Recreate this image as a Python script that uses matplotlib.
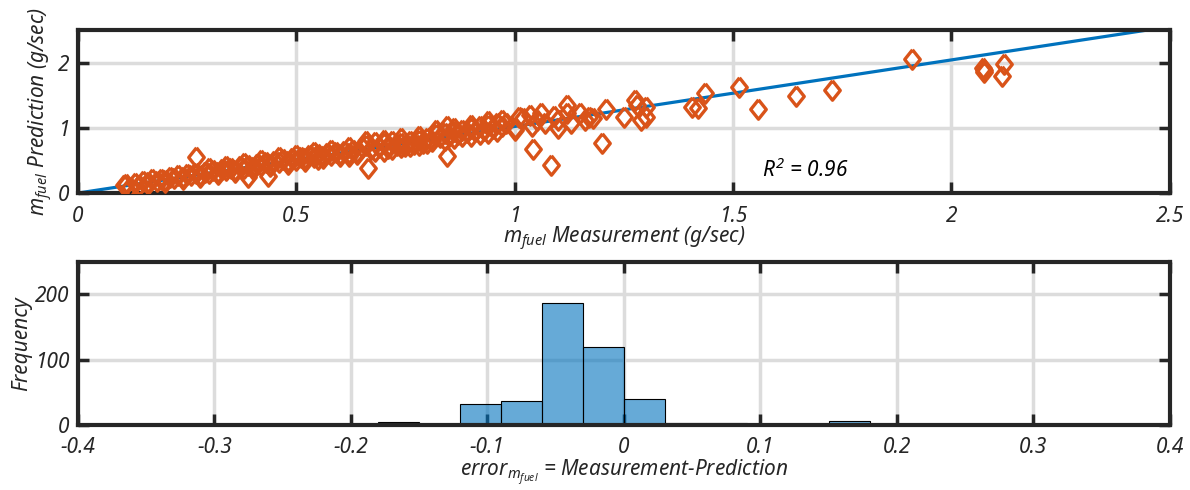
import matplotlib
matplotlib.use("Agg")
import matplotlib.pyplot as plt
from matplotlib.ticker import FormatStrFormatter

# ---- data ----
meas = [0.105, 0.11, 0.13, 0.14, 0.15, 0.16, 0.17, 0.18, 0.19, 0.20, 0.21, 0.22, 0.23, 0.24, 0.25,
        0.26, 0.27, 0.28, 0.29, 0.30, 0.31, 0.32, 0.33, 0.34, 0.35, 0.36, 0.37, 0.38, 0.39, 0.40,
        0.41, 0.42, 0.43, 0.44, 0.45, 0.46, 0.47, 0.48, 0.49, 0.50, 0.51, 0.52, 0.53, 0.54, 0.55,
        0.56, 0.57, 0.58, 0.59, 0.60, 0.61, 0.62, 0.63, 0.64, 0.65, 0.66, 0.67, 0.68, 0.69, 0.70,
        0.71, 0.72, 0.73, 0.74, 0.75, 0.76, 0.77, 0.78, 0.79, 0.80, 0.81, 0.82, 0.83, 0.84, 0.85,
        0.86, 0.87, 0.88, 0.89, 0.90, 0.91, 0.92, 0.93, 0.94, 0.95, 0.96, 0.97,
        0.12, 0.16, 0.20, 0.24, 0.28, 0.32, 0.36, 0.40, 0.44, 0.48, 0.52, 0.56, 0.60, 0.64, 0.68,
        0.72, 0.76, 0.80, 0.84, 0.88, 0.92, 0.96, 1.00, 1.04,
        0.30, 0.34, 0.38, 0.42, 0.46, 0.50, 0.54, 0.58, 0.62, 0.66, 0.70, 0.74, 0.78, 0.82, 0.86,
        0.90, 0.94, 0.97, 1.02,
        0.55, 0.62, 0.70, 0.74, 0.78, 0.86, 0.90, 0.94,
        0.27, 0.39, 0.435, 0.665, 0.845, 0.845,
        0.98, 1.00, 1.01, 1.035, 1.06, 1.042, 1.083, 1.10, 1.10, 1.12, 1.12, 1.13, 1.17, 1.18,
        1.20, 1.21, 1.25, 1.275, 1.28, 1.30, 1.30, 1.29, 1.05, 1.07, 1.09, 1.15, 1.16,
        1.405, 1.42, 1.435, 1.513, 1.557, 1.645, 1.726, 1.909, 2.072, 2.074, 2.12, 2.115, 2.075]
pred = [0.12, 0.14, 0.16, 0.13, 0.19, 0.17, 0.21, 0.18, 0.22, 0.20, 0.25, 0.23, 0.27, 0.24, 0.29,
        0.27, 0.31, 0.28, 0.33, 0.30, 0.35, 0.33, 0.37, 0.35, 0.39, 0.36, 0.41, 0.39, 0.43, 0.40,
        0.45, 0.43, 0.47, 0.44, 0.49, 0.47, 0.52, 0.49, 0.54, 0.51, 0.56, 0.53, 0.58, 0.55, 0.60,
        0.57, 0.62, 0.58, 0.63, 0.60, 0.65, 0.61, 0.66, 0.63, 0.70, 0.74, 0.67, 0.78, 0.71, 0.76,
        0.69, 0.80, 0.73, 0.77, 0.72, 0.79, 0.75, 0.82, 0.77, 0.84, 0.80, 0.90, 0.86, 0.92, 0.88,
        0.95, 0.90, 0.97, 0.93, 0.99, 0.95, 1.02, 0.97, 1.05, 1.00, 1.08, 1.03,
        0.10, 0.14, 0.17, 0.21, 0.25, 0.29, 0.33, 0.37, 0.41, 0.45, 0.49, 0.53, 0.57, 0.60, 0.65,
        0.68, 0.72, 0.76, 0.82, 0.87, 0.91, 0.95, 0.99, 1.02,
        0.38, 0.42, 0.46, 0.50, 0.55, 0.59, 0.63, 0.66, 0.70, 0.80, 0.82, 0.84, 0.88, 0.96, 1.00,
        1.05, 1.10, 1.12, 1.15,
        0.52, 0.57, 0.64, 0.70, 0.73, 0.84, 0.88, 0.92,
        0.55, 0.24, 0.26, 0.38, 0.57, 1.02,
        1.08, 0.97, 1.17, 1.20, 1.23, 0.68, 0.43, 1.12, 1.00, 1.35, 1.23, 1.07, 1.17, 1.15,
        0.77, 1.29, 1.17, 1.43, 1.35, 1.32, 1.17, 1.12, 1.12, 1.08, 1.18, 1.22, 1.12,
        1.32, 1.31, 1.54, 1.62, 1.29, 1.48, 1.58, 2.05, 1.92, 1.85, 1.97, 1.79, 1.89]

fit_x = [0, 2.5]
fit_y = [0, 2.55]
r2_text = "$R^2$ = 0.96"

bin_edges = [-0.18, -0.15, -0.12, -0.09, -0.06, -0.03, 0.0, 0.03, 0.06, 0.09, 0.12, 0.15, 0.18]
bin_counts = [4, 0, 32, 36, 186, 120, 40, 3, 3, 0, 0, 6]

top_xticks = [0, 0.5, 1, 1.5, 2, 2.5]
top_yticks = [0, 1, 2]
bot_xticks = [-0.4, -0.3, -0.2, -0.1, 0, 0.1, 0.2, 0.3, 0.4]
bot_yticks = [0, 100, 200]

plt.rcParams.update({
    "font.family": ["Noto Sans", "DejaVu Sans"],
    "font.style": "italic",
    "font.size": 15,
    "mathtext.fontset": "custom",
    "mathtext.it": "Noto Sans:italic",
    "mathtext.rm": "Noto Sans:italic",
    "axes.unicode_minus": False,
})

dark = "#262626"
grid_c = "#dcdcdc"


def style_axes(ax):
    for s in ax.spines.values():
        s.set_linewidth(3)
        s.set_color(dark)
    ax.tick_params(direction="in", length=8, width=2.5, color=dark, top=True, right=True,
                   labelsize=15, labelcolor=dark, pad=6)
    ax.tick_params(axis="x", pad=9)
    ax.grid(True, color=grid_c, linewidth=2.5)
    ax.xaxis.set_major_formatter(FormatStrFormatter("%g"))
    ax.yaxis.set_major_formatter(FormatStrFormatter("%g"))


fig = plt.figure(figsize=(11.9, 4.9), dpi=100)
ax1 = fig.add_axes([0.0655, 0.606, 0.9175, 0.333])
ax2 = fig.add_axes([0.0655, 0.133, 0.9175, 0.333])

# top: prediction vs measurement
diamond = [(0, 1), (0.8, 0), (0, -1), (-0.8, 0), (0, 1)]
ax1.plot(fit_x, fit_y, color="#0072BD", linewidth=2.3, zorder=2)
ax1.plot(meas, pred, linestyle="none", marker=diamond, markersize=14, mfc="none",
         mec="#D95319", mew=2.4, zorder=3)
ax1.set_xlim(0, 2.5)
ax1.set_ylim(0, 2.5)
ax1.set_xticks(top_xticks)
ax1.set_yticks(top_yticks)
style_axes(ax1)
ax1.set_xlabel("$m_{fuel}$ Measurement (g/sec)", color=dark, labelpad=-1)
ax1.set_ylabel("$m_{fuel}$ Prediction (g/sec)", color=dark, labelpad=2)
ax1.text(1.566, 0.35, r2_text, color="black", fontsize=15, va="center")

# bottom: error histogram
ax2.set_axisbelow(True)
ax2.hist(bin_edges[:-1], bins=bin_edges, weights=bin_counts,
         facecolor=(0.0, 0.447, 0.741, 0.6), edgecolor="black", linewidth=0.8)
ax2.set_xlim(-0.4, 0.4)
ax2.set_ylim(0, 250)
ax2.set_xticks(bot_xticks)
ax2.set_yticks(bot_yticks)
style_axes(ax2)
ax2.set_xlabel("$error_{m_{fuel}}$ = Measurement-Prediction", color=dark, labelpad=-1)
ax2.set_ylabel("Frequency", color=dark, labelpad=2)

fig.savefig("out.png", dpi=100)
plt.close(fig)
